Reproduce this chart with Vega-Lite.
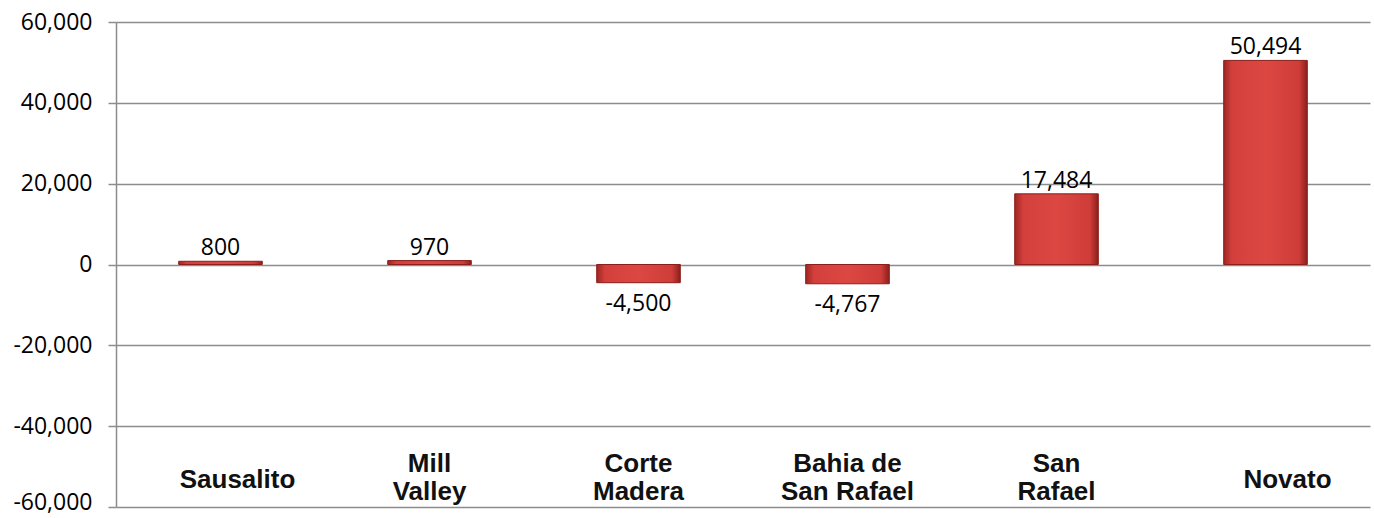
{
  "$schema": "https://vega.github.io/schema/vega-lite/v6.json",
  "width": 1254,
  "height": 485,
  "autosize": {"type": "none"},
  "padding": {"left": 116, "top": 22, "right": 4, "bottom": 11},
  "background": "white",
  "config": {"view": {"stroke": null}},
  "data": {
    "values": [
      {"city": "Sausalito", "value": 800},
      {"city": "Mill\nValley", "value": 970},
      {"city": "Corte\nMadera", "value": -4500},
      {"city": "Bahia de\nSan Rafael", "value": -4767},
      {"city": "San\nRafael", "value": 17484},
      {"city": "Novato", "value": 50494}
    ]
  },
  "transform": [
    {"calculate": "(datum.value < 0 ? '-' : '') + format(abs(datum.value), ',')", "as": "label"}
  ],
  "encoding": {
    "x": {
      "field": "city",
      "type": "nominal",
      "sort": null,
      "scale": {"paddingInner": 0.6, "paddingOuter": 0.3},
      "axis": {
        "title": null,
        "domain": false,
        "ticks": false,
        "grid": false,
        "labelAngle": 0,
        "labelExpr": "split(datum.label, '\\n')",
        "labelBaseline": "middle",
        "labelPadding": {"condition": {"test": "indexof(datum.value, '\\n') >= 0", "value": -44}, "value": -28},
        "labelOffset": {"condition": [
          {"test": "datum.value === 'Sausalito'", "value": 17},
          {"test": "datum.value === 'Novato'", "value": 22}
        ], "value": 0},
        "labelFont": "Liberation Sans",
        "labelFontWeight": "bold",
        "labelFontSize": 26,
        "labelLineHeight": 28,
        "labelColor": "#111111"
      }
    },
    "y": {
      "field": "value",
      "type": "quantitative",
      "scale": {"domain": [-60000, 60000], "nice": false},
      "axis": {
        "title": null,
        "values": [-60000, -40000, -20000, 0, 20000, 40000, 60000],
        "labelExpr": "(datum.value < 0 ? '-' : '') + format(abs(datum.value), ',')",
        "labelOffset": {"condition": {"test": "datum.value === -60000", "value": -5}, "value": 0},
        "labelFont": "Open Sans",
        "labelFontSize": 23,
        "labelColor": "#000000",
        "labelPadding": 16,
        "tickSize": 8,
        "tickColor": "#8c8c8c",
        "tickWidth": 1.5,
        "domainColor": "#8c8c8c",
        "domainWidth": 1.5,
        "gridColor": "#8c8c8c",
        "gridWidth": 1.5
      }
    }
  },
  "layer": [
    {
      "mark": {
        "type": "bar",
        "stroke": "#8a1f1c",
        "strokeWidth": 1,
        "color": {
          "gradient": "linear",
          "x1": 0, "y1": 0, "x2": 1, "y2": 0,
          "stops": [
            {"offset": 0, "color": "#9e2522"},
            {"offset": 0.1, "color": "#d3403c"},
            {"offset": 0.5, "color": "#dc4742"},
            {"offset": 0.9, "color": "#cf3d39"},
            {"offset": 1, "color": "#8a1f1c"}
          ]
        }
      }
    },
    {
      "transform": [{"filter": "datum.value >= 0"}],
      "mark": {"type": "text", "baseline": "bottom", "dy": -1, "font": "Open Sans", "fontSize": 23, "color": "#000000"},
      "encoding": {"text": {"field": "label", "type": "nominal"}}
    },
    {
      "transform": [{"filter": "datum.value < 0"}],
      "mark": {"type": "text", "baseline": "top", "dy": 10, "font": "Open Sans", "fontSize": 23, "color": "#000000"},
      "encoding": {"text": {"field": "label", "type": "nominal"}}
    }
  ]
}
